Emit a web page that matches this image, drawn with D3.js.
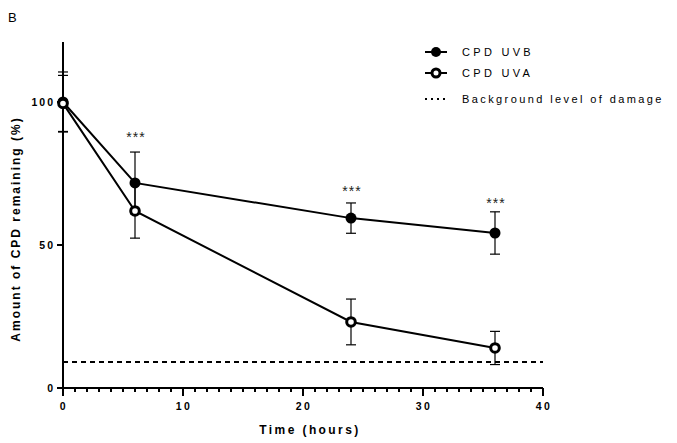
<!DOCTYPE html>
<html lang="en">
<head>
<meta charset="UTF-8">
<title>CPD repair</title>
<style>
  body, html { margin: 0; padding: 0; background: #fff; }
  svg text { font-family: "Liberation Sans", Arial, sans-serif; }
</style>
</head>
<body>
<svg id="chart" width="677" height="443"></svg>
<script src="https://d3js.org/d3.v7.min.js"></script>
<script>
  // time points (hours)
  const times = [0, 6, 24, 36]
  // CPD UVB mean and error (+/-)
  const uvbMean = [100, 71.7, 59.4, 54.2]
  const uvbErr = [10.5, 10.8, 5.3, 7.4]
  // CPD UVA
  const uvaMean = [99.5, 61.9, 23.1, 14.0]
  const uvaErr = [9.8, 9.5, 8.0, 5.8]
  const background = 9.1
  const starTimes = [6, 24, 36]
  const starValues = [86, 67, 63]
  const xTicks = [0, 10, 20, 30, 40]
  const yTicks = [0, 50, 100]

  const svg = d3.select('#chart')

  const x = d3.scaleLinear().domain([0, 40]).range([63, 543])
  const y = d3.scaleLinear().domain([0, 100]).range([388, 102])

  // panel letter
  svg.append('text').attr('x', 8).attr('y', 22).style('font-size', '13px').text('B')

  // background dashed line
  svg.append('line')
    .attr('x1', x(0)).attr('x2', x(40))
    .attr('y1', y(background)).attr('y2', y(background))
    .attr('stroke', '#000').attr('stroke-width', 2).attr('stroke-dasharray', '5,4')

  // axes
  const g = svg.append('g')
  g.append('line').attr('x1', x(0)).attr('x2', x(0)).attr('y1', 42).attr('y2', y(0))
    .attr('stroke', '#000').attr('stroke-width', 2)
  g.append('line').attr('x1', x(0)).attr('x2', x(40)).attr('y1', y(0)).attr('y2', y(0))
    .attr('stroke', '#000').attr('stroke-width', 2)

  // x minor ticks every hour
  g.selectAll('.minor').data(d3.range(0, 41)).enter().append('line')
    .attr('x1', d => x(d)).attr('x2', d => x(d))
    .attr('y1', y(0)).attr('y2', d => y(0) + (d % 10 === 0 ? 8 : 4))
    .attr('stroke', '#000').attr('stroke-width', 2)

  g.selectAll('.xlab').data(xTicks).enter().append('text')
    .attr('x', d => x(d) + 1).attr('y', y(0) + 22)
    .attr('text-anchor', 'middle')
    .style('font-size', '10.5px').style('font-weight', 'bold').style('letter-spacing', '2.5px')
    .text(d => d)

  g.selectAll('.ytick').data(yTicks).enter().append('line')
    .attr('x1', x(0) - 6).attr('x2', x(0))
    .attr('y1', d => y(d)).attr('y2', d => y(d))
    .attr('stroke', '#000').attr('stroke-width', 2)

  g.selectAll('.ylab').data(yTicks).enter().append('text')
    .attr('x', x(0) - 8).attr('y', d => y(d) + 4)
    .attr('text-anchor', 'end')
    .style('font-size', '10.5px').style('font-weight', 'bold').style('letter-spacing', '2px')
    .text(d => d)

  // axis titles
  svg.append('text')
    .attr('x', x(20) + 7).attr('y', 434)
    .attr('text-anchor', 'middle')
    .style('font-size', '12px').style('font-weight', 'bold').style('letter-spacing', '2.4px')
    .text('Time (hours)')
  svg.append('text')
    .attr('transform', `translate(20, 229) rotate(-90)`)
    .attr('text-anchor', 'middle')
    .style('font-size', '12px').style('font-weight', 'bold').style('letter-spacing', '2px')
    .text('Amount of CPD remaining (%)')

  // series
  const series = [
    { name: 'CPD UVB', mean: uvbMean, err: uvbErr, fill: '#000' },
    { name: 'CPD UVA', mean: uvaMean, err: uvaErr, fill: '#fff' }
  ]
  const line = d3.line().x(d => x(d.t)).y(d => y(d.v))

  series.forEach(s => {
    const pts = times.map((t, i) => ({ t, v: s.mean[i], e: s.err[i] }))
    // error bars
    pts.forEach(p => {
      svg.append('line').attr('x1', x(p.t)).attr('x2', x(p.t))
        .attr('y1', y(p.v - p.e)).attr('y2', y(p.v + p.e))
        .attr('stroke', '#000').attr('stroke-width', 1.2)
      ;[p.v - p.e, p.v + p.e].forEach(v => {
        svg.append('line').attr('x1', x(p.t) - 5).attr('x2', x(p.t) + 5)
          .attr('y1', y(v)).attr('y2', y(v))
          .attr('stroke', '#000').attr('stroke-width', 1.2)
      })
    })
    svg.append('path').datum(pts).attr('d', line)
      .attr('fill', 'none').attr('stroke', '#000').attr('stroke-width', 2)
  })
  series.forEach(s => {
    svg.selectAll(null).data(times.map((t, i) => ({ t, v: s.mean[i] }))).enter()
      .append('circle')
      .attr('cx', d => x(d.t)).attr('cy', d => y(d.v))
      .attr('r', s.fill === '#000' ? 5.5 : 4.3)
      .attr('fill', s.fill).attr('stroke', '#000').attr('stroke-width', s.fill === '#000' ? 0 : 3)
  })

  // significance stars
  svg.selectAll('.star').data(starTimes.map((t, i) => ({ t, v: starValues[i] }))).enter()
    .append('text')
    .attr('x', d => x(d.t) + 1).attr('y', d => y(d.v))
    .attr('text-anchor', 'middle')
    .style('font-size', '14px').style('letter-spacing', '1px').attr('fill', '#222')
    .text('***')

  // legend
  const leg = svg.append('g').attr('transform', 'translate(425, 0)')
  const legRows = [52, 73]
  series.forEach((s, i) => {
    leg.append('line').attr('x1', 0).attr('x2', 22).attr('y1', legRows[i]).attr('y2', legRows[i])
      .attr('stroke', '#000').attr('stroke-width', 2)
    leg.append('circle').attr('cx', 11).attr('cy', legRows[i])
      .attr('r', s.fill === '#000' ? 5 : 4)
      .attr('fill', s.fill).attr('stroke', '#000').attr('stroke-width', s.fill === '#000' ? 0 : 3)
    leg.append('text').attr('x', 37).attr('y', legRows[i] + 4)
      .style('font-size', '11px').style('letter-spacing', '3.3px')
      .text(s.name)
  })
  leg.append('line').attr('x1', 0).attr('x2', 22).attr('y1', 99).attr('y2', 99)
    .attr('stroke', '#000').attr('stroke-width', 2).attr('stroke-dasharray', '2,4')
  leg.append('text').attr('x', 37).attr('y', 103)
    .style('font-size', '11px').style('letter-spacing', '2.4px')
    .text('Background level of damage')
</script>
</body>
</html>
